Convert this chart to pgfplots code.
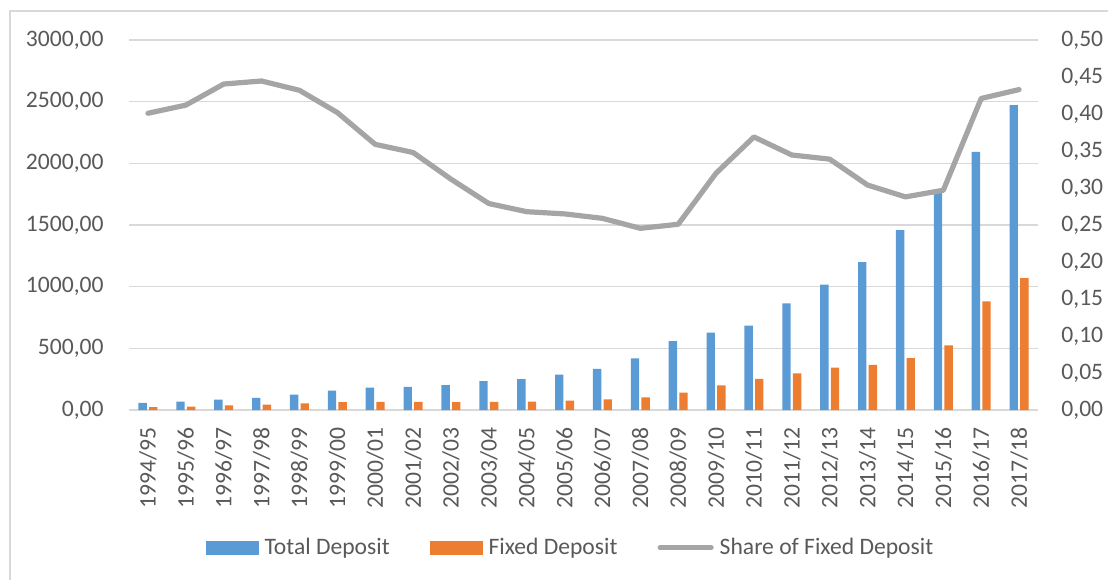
\documentclass[border=0pt]{standalone}
\usepackage{pgfplots}
\pgfplotsset{compat=1.18}
\usepackage{pgfplotstable}
\usepackage{fontspec}
\setmainfont{Carlito}
\definecolor{totalblue}{HTML}{5B9BD5}
\definecolor{fixedorange}{HTML}{ED7D31}
\definecolor{sharegray}{HTML}{A5A5A5}
\definecolor{gridgray}{HTML}{D9D9D9}
\definecolor{textgray}{HTML}{595959}
\pgfplotstableread{
x total fixed share
0 58 23 0.401
1 68 28 0.412
2 84 37 0.4405
3 98 44 0.4446
4 125 54 0.432
5 158 63 0.402
6 182 65 0.359
7 188 65 0.348
8 202 63 0.312
9 234 65 0.279
10 250 67 0.268
11 287 76 0.265
12 333 86 0.259
13 419 103 0.2455
14 559 140 0.251
15 627 200 0.320
16 684 252 0.369
17 865 298 0.3446
18 1016 344 0.339
19 1200 365 0.304
20 1459 420 0.288
21 1765 524 0.297
22 2092 880 0.421
23 2473 1070 0.433
}\datatable
\begin{document}
\fontsize{11.8}{14}\selectfont
\begin{tikzpicture}
\path[use as bounding box] (0,0) rectangle (554pt,289.5pt);
\draw[gridgray, line width=0.9pt] (5pt,-2pt) -- (5pt,284pt) -- (560pt,284pt);
\begin{axis}[
  at={(64.5pt,84.5pt)}, anchor=south west,
  scale only axis, width=454.5pt, height=185pt,
  xmin=-0.5, xmax=23.5, ymin=0, ymax=3000,
  ytick={0,500,...,3000},
  xtick={0,...,23},
  xticklabels={1994/95,1995/96,1996/97,1997/98,1998/99,1999/00,2000/01,2001/02,2002/03,2003/04,2004/05,2005/06,2006/07,2007/08,2008/09,2009/10,2010/11,2011/12,2012/13,2013/14,2014/15,2015/16,2016/17,2017/18},
  ybar=1.15pt, bar width=4.15pt,
  axis line style={draw=none},
  major tick length=0pt,
  ymajorgrids, grid style={gridgray, line width=0.75pt},
  tick label style={font=\fontsize{11.8}{14}\selectfont, text=textgray},
  /pgf/number format/assume math mode=true,
  yticklabel style={/pgf/number format/fixed, /pgf/number format/fixed zerofill, /pgf/number format/precision=2, /pgf/number format/use comma, /pgf/number format/1000 sep={}},
  y tick label style={anchor=east, inner sep=0pt, xshift=-12.5pt},
  x tick label style={yshift=-8.5pt, rotate=90, anchor=east, inner sep=0pt},
  clip=false,
]
\addplot[fill=totalblue, draw=none] table[x=x, y=total] {\datatable};
\addplot[fill=fixedorange, draw=none] table[x=x, y=fixed] {\datatable};
\end{axis}
\begin{axis}[
  at={(64.5pt,84.5pt)}, anchor=south west,
  scale only axis, width=454.5pt, height=185pt,
  xmin=-0.5, xmax=23.5, ymin=0, ymax=0.5,
  axis x line=none, axis y line*=right,
  axis line style={draw=none},
  major tick length=0pt,
  ytick={0,0.05,...,0.51},
  tick label style={font=\fontsize{11.8}{14}\selectfont, text=textgray},
  /pgf/number format/assume math mode=true,
  yticklabel style={/pgf/number format/fixed, /pgf/number format/fixed zerofill, /pgf/number format/precision=2, /pgf/number format/use comma},
  y tick label style={anchor=west, inner sep=0pt, xshift=11.5pt},
  clip=false,
  legend columns=3,
  legend style={at={(0.4846,-0.372)}, anchor=center, draw=none, fill=none,
    font=\fontsize{11.8}{14}\selectfont, text=textgray,
    nodes={inner sep=0pt},
    /tikz/every odd column/.append style={column sep=3pt},
    /tikz/every even column/.append style={column sep=20pt}},
  legend cell align=left,
]
\addlegendimage{legend image code/.code={\fill[totalblue] (0pt,-3.25pt) rectangle (26pt,3.25pt);}}
\addlegendentry{Total Deposit}
\addlegendimage{legend image code/.code={\fill[fixedorange] (0pt,-3.25pt) rectangle (26pt,3.25pt);}}
\addlegendentry{Fixed Deposit}
\addlegendimage{legend image code/.code={\draw[sharegray, line width=2.6pt, line cap=round] (1pt,0pt) -- (26.5pt,0pt);}}
\addlegendentry{Share of Fixed Deposit}
\addplot[sharegray, line width=2.6pt, line join=round, line cap=round, mark=none] table[x=x, y=share] {\datatable};
\end{axis}
\end{tikzpicture}
\end{document}
